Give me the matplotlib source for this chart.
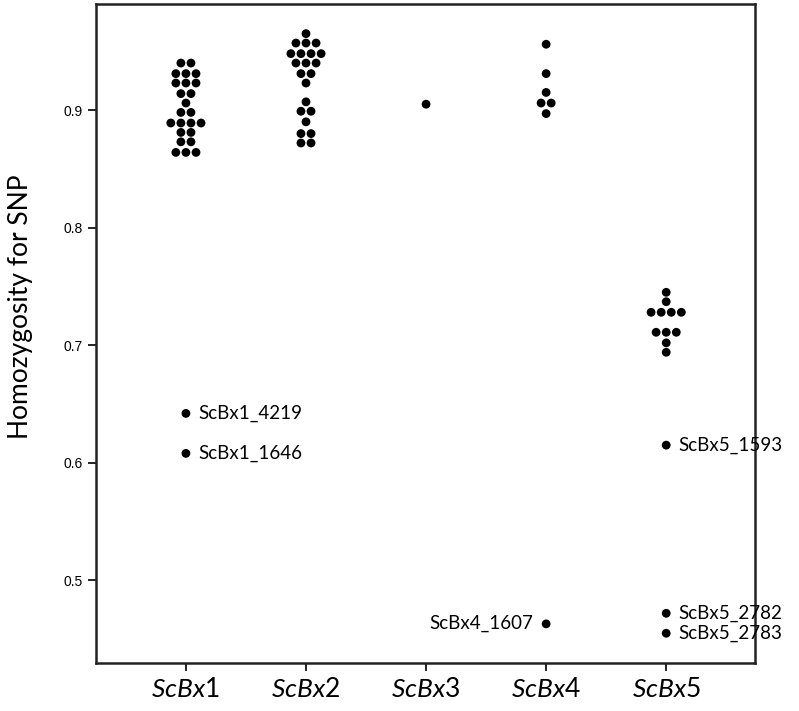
import numpy as np
import matplotlib
matplotlib.use("Agg")
import matplotlib.pyplot as plt

plt.rcParams['font.family'] = ['Lato', 'DejaVu Sans']
plt.rcParams['mathtext.fontset'] = 'custom'
plt.rcParams['mathtext.rm'] = 'Lato'
plt.rcParams['mathtext.it'] = 'Lato:italic'

# groups and their SNP homozygosity values
groups = ['ScBx1', 'ScBx2', 'ScBx3', 'ScBx4', 'ScBx5']
scbx1 = [0.940, 0.940, 0.931, 0.931, 0.931, 0.923, 0.923, 0.923, 0.914, 0.914,
         0.906, 0.898, 0.898, 0.889, 0.889, 0.889, 0.889, 0.881, 0.881,
         0.873, 0.873, 0.864, 0.864, 0.864, 0.642, 0.608]
scbx2 = [0.965, 0.957, 0.957, 0.957, 0.948, 0.948, 0.948, 0.948, 0.940, 0.940,
         0.940, 0.931, 0.931, 0.923, 0.907, 0.899, 0.899, 0.890, 0.880, 0.880,
         0.872, 0.872]
scbx3 = [0.905]
scbx4 = [0.956, 0.931, 0.915, 0.906, 0.906, 0.897, 0.463]
scbx5 = [0.745, 0.737, 0.728, 0.728, 0.728, 0.728, 0.711, 0.711, 0.711,
         0.702, 0.694, 0.615, 0.472, 0.455]
values = [scbx1, scbx2, scbx3, scbx4, scbx5]

# labelled outliers: name, group index, value
out_names = ['ScBx1_4219', 'ScBx1_1646', 'ScBx4_1607', 'ScBx5_1593', 'ScBx5_2782', 'ScBx5_2783']
out_group = [0, 0, 3, 4, 4, 4]
out_vals = [0.642, 0.608, 0.463, 0.615, 0.472, 0.455]
out_left = [False, False, True, False, False, False]

fig = plt.figure(figsize=(7.99, 7.11), dpi=100)
ax = fig.add_axes([0.120, 0.068, 0.825, 0.926])

dx = 0.084
for i, vals in enumerate(values):
    v, n = np.unique(vals, return_counts=True)
    for val, cnt in zip(v, n):
        xs = i + 1 + (np.arange(cnt) - (cnt - 1) / 2) * dx
        ax.scatter(xs, [val] * cnt, s=40, color='black', edgecolors='none', zorder=3)

for name, g, val, left in zip(out_names, out_group, out_vals, out_left):
    if left:
        ax.annotate(name, (g + 1, val), xytext=(-9, 0), textcoords='offset points',
                    ha='right', va='center', fontsize=13.5)
    else:
        ax.annotate(name, (g + 1, val), xytext=(9, 0), textcoords='offset points',
                    ha='left', va='center', fontsize=13.5)

ax.set_xlim(0.25, 5.74)
ax.set_ylim(0.43, 0.99)
ax.set_yticks([0.5, 0.6, 0.7, 0.8, 0.9])
ax.set_yticklabels(['0.5', '0.6', '0.7', '0.8', '0.9'], family='Liberation Sans', fontsize=10)
ax.set_xticks(range(1, 6))
ax.set_xticklabels([r'$\mathit{ScBx}$' + g[-1] for g in groups], fontsize=19)
ax.tick_params(axis='y', direction='out', length=6, width=1.2)
ax.tick_params(axis='x', direction='out', length=6, width=1.2, pad=4)
for sp in ax.spines.values():
    sp.set_linewidth(1.8)
    sp.set_color('#222222')
ax.set_ylabel('Homozygosity for SNP', fontsize=19)
ax.yaxis.set_label_coords(-0.095, 0.54)

fig.savefig('out.png', dpi=100)
